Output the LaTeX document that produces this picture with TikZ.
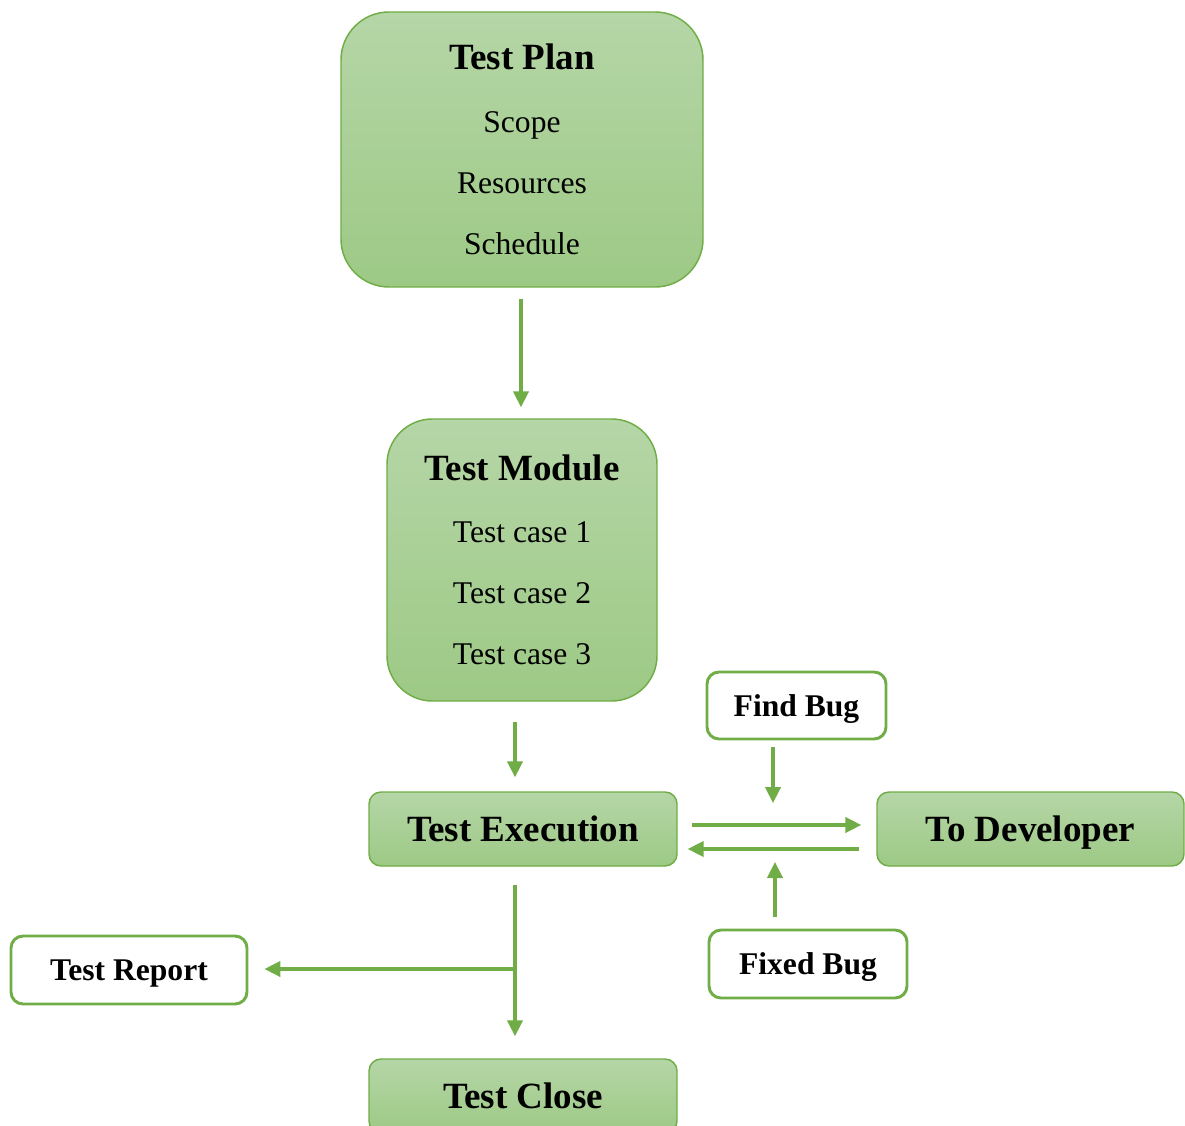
\documentclass[tikz,border=0pt]{standalone}
\usepackage{fontspec}
\setmainfont{Liberation Serif}
\usetikzlibrary{arrows.meta,calc}

\definecolor{gline}{HTML}{70AD47}
\definecolor{gtop}{HTML}{B5D6A7}
\definecolor{gbot}{HTML}{9DC985}

\newcommand{\tpTitle}{\fontsize{27.75}{33}\selectfont\bfseries}
\newcommand{\tpLine}{\fontsize{23.7}{45.75}\selectfont}

\tikzset{
  greenbox/.style={draw=gline, line width=1.1pt, top color=gtop, bottom color=gbot, inner sep=0pt, align=center},
  flatbox/.style={greenbox, minimum width=231pt, minimum height=55.5pt, rounded corners=9pt, font=\tpTitle, text depth=0pt},
  whitebox/.style={draw=gline, line width=2.2pt, fill=white, rounded corners=9pt, inner sep=0pt, font=\tpLine\bfseries, text depth=0pt},
  flow/.style={draw=gline, line width=2.4pt, -{Triangle[length=12pt,width=11.5pt]}},
}

\begin{document}
\begin{tikzpicture}[x=0.75pt,y=0.75pt,yscale=-1,xscale=1]
\useasboundingbox (0,0) rectangle (1185,1126);
\clip (0,0) rectangle (1185,1126);

% Test Plan
\node[greenbox, minimum width=271.5pt, minimum height=206.25pt, rounded corners=36pt, font=\tpLine] (plan) at (522,149.5)
  {{\tpTitle Test Plan}\\[1.5pt] Scope\\ Resources\\ Schedule};
% Test Module
\node[greenbox, minimum width=202.5pt, minimum height=211.5pt, rounded corners=34pt, font=\tpLine] (module) at (522,560)
  {{\tpTitle Test Module}\\[1pt] Test case 1\\ Test case 2\\ Test case 3};
% Execution row
\node[flatbox] (exec) at (523,829) {Test Execution};
\node[flatbox, minimum width=230.25pt] (dev) at (1030.5,829) {To Developer};
\node[flatbox] (close) at (523,1096) {Test Close};
% Bug boxes
\node[whitebox, minimum width=134.25pt, minimum height=50.25pt] (find) at (796.5,705.5) {Find Bug};
\node[whitebox, minimum width=148.5pt, minimum height=51pt] (fixed) at (808,964) {Fixed Bug};
\node[whitebox, minimum width=177pt, minimum height=51pt] (report) at (129,970) {Test Report};

% Connection
\draw[flow, shorten <=8.25pt, shorten >=8.25pt] ($(plan.south)+(-1,0)$) -- ($(module.north)+(-1,0)$);
% Connection
\draw[flow, shorten <=15pt, shorten >=10.5pt] ($(module.south)+(-7,0)$) -- ($(exec.north)+(-8,0)$);
% Connection
\draw[flow, shorten <=10.5pt, shorten >=11.25pt] ($(exec.east)+(0,-4)$) -- ($(dev.west)+(0,-4)$);
% Connection
\draw[flow, shorten <=12.75pt, shorten >=7.5pt] ($(dev.west)+(0,20)$) -- ($(exec.east)+(0,20)$);
% Connection
\coordinate (findtip) at (773,803);
\draw[flow, shorten <=5.25pt] (findtip |- find.south) -- (findtip);
% Connection
\coordinate (fixtip) at (775,862);
\draw[flow, shorten <=9pt] (fixtip |- fixed.north) -- (fixtip);
% Connection
\draw[flow, shorten <=13.5pt, shorten >=16.5pt] ($(exec.south)+(-8,0)$) -- ($(close.north)+(-8,0)$);
% Connection
\coordinate (branch) at (514,969);
\draw[flow, shorten >=12pt] (branch) -- (report.east |- branch);

\end{tikzpicture}
\end{document}
